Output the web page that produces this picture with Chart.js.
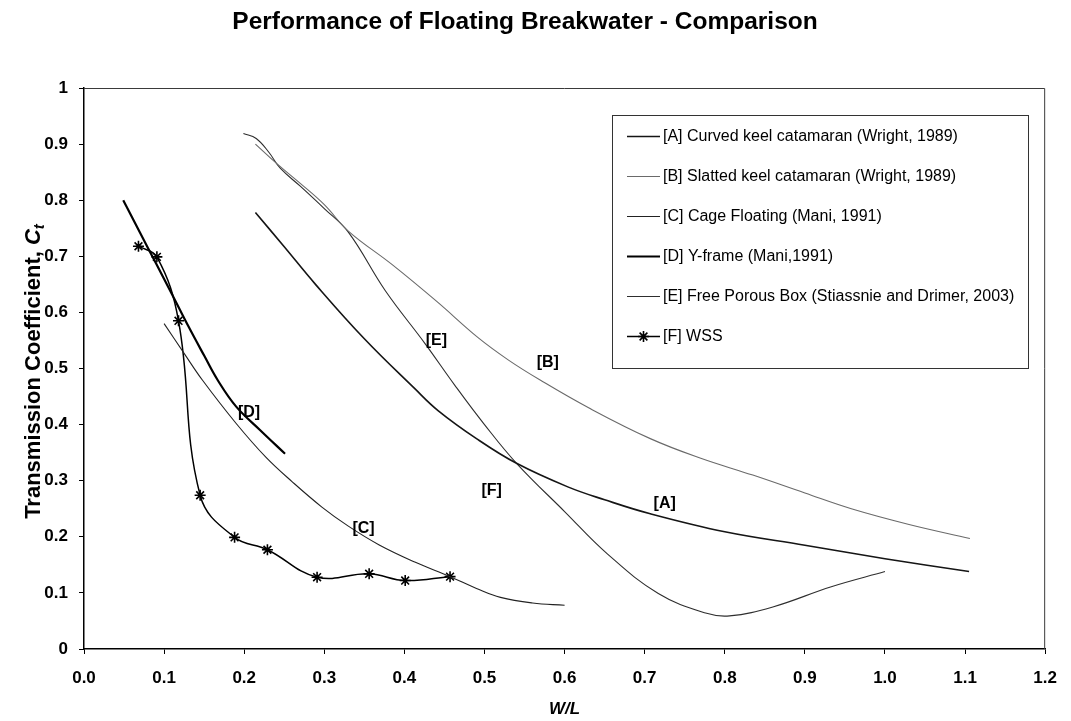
<!DOCTYPE html>
<html>
<head>
<meta charset="utf-8">
<title>Performance of Floating Breakwater - Comparison</title>
<script src="https://cdn.jsdelivr.net/npm/chart.js@4.4.1/dist/chart.umd.min.js"></script>
<style>
  html, body { margin: 0; padding: 0; background: #fff; }
  #wrap { position: relative; width: 1071px; height: 721px; }
</style>
</head>
<body>
<div id="wrap"><canvas id="chart" width="1071" height="721"></canvas></div>
<script>
// Transmission coefficient Ct against relative width W/L, one [W/L, Ct] list per breakwater
const curveA = [[0.214, 0.778], [0.25, 0.717], [0.289, 0.65], [0.35, 0.553], [0.413, 0.464], [0.442, 0.425],
                [0.49, 0.375], [0.54, 0.331], [0.604, 0.289], [0.65, 0.266], [0.707, 0.241], [0.8, 0.209],
                [0.9, 0.185], [1.0, 0.161], [1.105, 0.138]];
const curveB = [[0.214, 0.90], [0.24, 0.866], [0.27, 0.83], [0.30, 0.792], [0.33, 0.745], [0.384, 0.686],
                [0.44, 0.62], [0.492, 0.555], [0.53, 0.515], [0.57, 0.479], [0.63, 0.43], [0.707, 0.375],
                [0.77, 0.34], [0.835, 0.31], [0.9, 0.278], [0.958, 0.25], [1.03, 0.222], [1.106, 0.197]];
const curveC = [[0.10, 0.58], [0.125, 0.527], [0.148, 0.479], [0.19, 0.402], [0.227, 0.342], [0.26, 0.298],
                [0.297, 0.253], [0.33, 0.219], [0.368, 0.186], [0.413, 0.155], [0.457, 0.129], [0.49, 0.108],
                [0.52, 0.092], [0.56, 0.082], [0.60, 0.078]];
const curveD = [[0.049, 0.80], [0.07, 0.742], [0.09, 0.687], [0.11, 0.632], [0.13, 0.576], [0.15, 0.523],
                [0.167, 0.479], [0.19, 0.432], [0.22, 0.39], [0.251, 0.348]];
const curveE = [[0.199, 0.919], [0.215, 0.91], [0.231, 0.885], [0.245, 0.857], [0.27, 0.825], [0.30, 0.785],
                [0.33, 0.743], [0.376, 0.639], [0.426, 0.544], [0.463, 0.47], [0.5, 0.40], [0.54, 0.331],
                [0.6, 0.245], [0.653, 0.17], [0.717, 0.099], [0.776, 0.064], [0.806, 0.059], [0.86, 0.075],
                [0.933, 0.111], [1.0, 0.138]];
const curveF = [[0.068, 0.718], [0.091, 0.699], [0.118, 0.585], [0.145, 0.274], [0.188, 0.199], [0.229, 0.177],
                [0.291, 0.128], [0.356, 0.134], [0.401, 0.122], [0.457, 0.129]];

const seriesNames = [
  '[A] Curved keel catamaran (Wright, 1989)',
  '[B] Slatted keel catamaran (Wright, 1989)',
  '[C] Cage Floating (Mani, 1991)',
  '[D] Y-frame (Mani,1991)',
  '[E] Free Porous Box (Stiassnie and Drimer, 2003)',
  '[F] WSS'
];

const xTickLabels = ['0.0', '0.1', '0.2', '0.3', '0.4', '0.5', '0.6', '0.7', '0.8', '0.9', '1.0', '1.1', '1.2'];
const yTickLabels = ['0', '0.1', '0.2', '0.3', '0.4', '0.5', '0.6', '0.7', '0.8', '0.9', '1'];

// Curve tags placed in W/L, Ct units
const tagText = ['[A]', '[B]', '[C]', '[D]', '[E]', '[F]'];
const tagWL   = [0.725, 0.579, 0.349, 0.206, 0.44, 0.509];
const tagCt   = [0.259, 0.511, 0.215, 0.422, 0.55, 0.283];

const FONT = '"Liberation Sans", Arial, Helvetica, sans-serif';
const toPoints = arr => arr.map(([x, y]) => ({ x, y }));

function curveDataset(label, data, color, width, extra) {
  return Object.assign({
    label, data: toPoints(data),
    borderColor: color, backgroundColor: color, borderWidth: width,
    pointRadius: 0, pointHoverRadius: 0, tension: 0.4, fill: false
  }, extra || {});
}

const datasets = [
  curveDataset(seriesNames[0], curveA, '#151515', 1.6),
  curveDataset(seriesNames[1], curveB, '#6a6a6a', 1.1),
  curveDataset(seriesNames[2], curveC, '#222222', 1.1),
  curveDataset(seriesNames[3], curveD, '#000000', 2.2),
  curveDataset(seriesNames[4], curveE, '#2e2e2e', 1.1),
  curveDataset(seriesNames[5], curveF, '#000000', 1.5, {
    pointStyle: 'star', pointRadius: 5.5, pointBorderWidth: 1.6,
    pointBorderColor: '#000', pointBackgroundColor: '#000'
  })
];

// Plot frame, curve tags, boxed legend and the y-axis title with C subscript t
const decorations = {
  id: 'decorations',
  afterDatasetsDraw(chart) {
    const { ctx, chartArea: a, scales } = chart;
    ctx.save();

    // top and right frame lines of the plot area
    ctx.strokeStyle = '#3a3a3a';
    ctx.lineWidth = 1;
    ctx.beginPath();
    ctx.moveTo(a.left, a.top + 0.5);
    ctx.lineTo(a.right - 0.5, a.top + 0.5);
    ctx.lineTo(a.right - 0.5, a.bottom);
    ctx.stroke();

    // curve tags
    ctx.fillStyle = '#000';
    ctx.font = 'bold 16px ' + FONT;
    ctx.textAlign = 'center';
    ctx.textBaseline = 'middle';
    tagText.forEach((t, i) => {
      ctx.fillText(t, scales.x.getPixelForValue(tagWL[i]), scales.y.getPixelForValue(tagCt[i]));
    });

    // legend box
    const box = { left: 612, top: 115, right: 1028, bottom: 368 };
    const row0 = 136, rowGap = 40, lineX0 = 627, lineX1 = 660, textX = 663;
    ctx.fillStyle = '#fff';
    ctx.fillRect(box.left, box.top, box.right - box.left, box.bottom - box.top);
    ctx.strokeStyle = '#333';
    ctx.lineWidth = 1;
    ctx.strokeRect(box.left + 0.5, box.top + 0.5, box.right - box.left, box.bottom - box.top);
    ctx.font = '16px ' + FONT;
    ctx.textAlign = 'left';
    ctx.textBaseline = 'middle';
    chart.data.datasets.forEach((ds, i) => {
      const y = Math.round(row0 + i * rowGap) + 0.5;
      ctx.strokeStyle = ds.borderColor;
      ctx.lineWidth = ds.borderWidth;
      ctx.beginPath();
      ctx.moveTo(lineX0, y);
      ctx.lineTo(lineX1, y);
      ctx.stroke();
      if (ds.pointStyle) {
        ctx.strokeStyle = ds.pointBorderColor;
        ctx.fillStyle = ds.pointBackgroundColor;
        ctx.lineWidth = ds.pointBorderWidth;
        Chart.helpers.drawPoint(ctx, { pointStyle: ds.pointStyle, radius: ds.pointRadius, borderWidth: ds.pointBorderWidth },
          (lineX0 + lineX1) / 2, y);
      }
      ctx.fillStyle = '#000';
      ctx.fillText(ds.label, textX, y);
    });

    // y-axis title
    ctx.translate(32, (a.top + a.bottom) / 2 + 3);
    ctx.rotate(-Math.PI / 2);
    ctx.textBaseline = 'alphabetic';
    ctx.textAlign = 'left';
    const mainFont = 'bold 22px ' + FONT;
    const capFont = 'italic bold 22px ' + FONT;
    const subFont = 'italic bold 15px ' + FONT;
    const main = 'Transmission Coefficient, ';
    ctx.font = mainFont; const w1 = ctx.measureText(main).width;
    ctx.font = capFont;  const w2 = ctx.measureText('C').width;
    ctx.font = subFont;  const w3 = ctx.measureText('t').width;
    let x = -(w1 + w2 + w3) / 2;
    ctx.fillStyle = '#000';
    ctx.font = mainFont; ctx.fillText(main, x, 8); x += w1;
    ctx.font = capFont;  ctx.fillText('C', x, 8); x += w2;
    ctx.font = subFont;  ctx.fillText('t', x, 12);

    ctx.restore();
  }
};

const tickFont = { family: FONT, size: 17, weight: 'bold' };

new Chart(document.getElementById('chart'), {
  type: 'line',
  data: { datasets },
  options: {
    responsive: false,
    devicePixelRatio: 1,
    animation: false,
    events: [],
    layout: { padding: { left: 0, right: 21, top: 0, bottom: 0 } },
    plugins: {
      legend: { display: false },
      tooltip: { enabled: false },
      title: {
        display: true,
        text: 'Performance of Floating Breakwater - Comparison',
        color: '#000',
        font: { family: FONT, size: 24.5, weight: 'bold' },
        padding: { top: 7.3, bottom: 51.3 }
      }
    },
    scales: {
      x: {
        type: 'linear', min: 0, max: 1.2,
        afterFit(s) { s.height = 72; },
        ticks: {
          stepSize: 0.1, autoSkip: false, maxRotation: 0, padding: 14,
          color: '#000', font: tickFont,
          callback: (v, i) => xTickLabels[i]
        },
        grid: { display: true, drawOnChartArea: false, drawTicks: true, tickLength: 5, color: '#000', lineWidth: 1 },
        border: { display: true, color: '#000', width: 1.5 },
        title: {
          display: true, text: 'W/L', color: '#000',
          font: { family: FONT, size: 17, weight: 'bold', style: 'italic' },
          padding: { top: 0, bottom: 1 }
        }
      },
      y: {
        type: 'linear', min: 0, max: 1,
        afterFit(s) { s.width = 84; },
        ticks: {
          stepSize: 0.1, autoSkip: false, padding: 11,
          color: '#000', font: tickFont,
          callback: (v, i) => yTickLabels[i]
        },
        grid: { display: true, drawOnChartArea: false, drawTicks: true, tickLength: 5, color: '#000', lineWidth: 1 },
        border: { display: true, color: '#000', width: 1.5 }
      }
    }
  },
  plugins: [decorations]
});
</script>
</body>
</html>
